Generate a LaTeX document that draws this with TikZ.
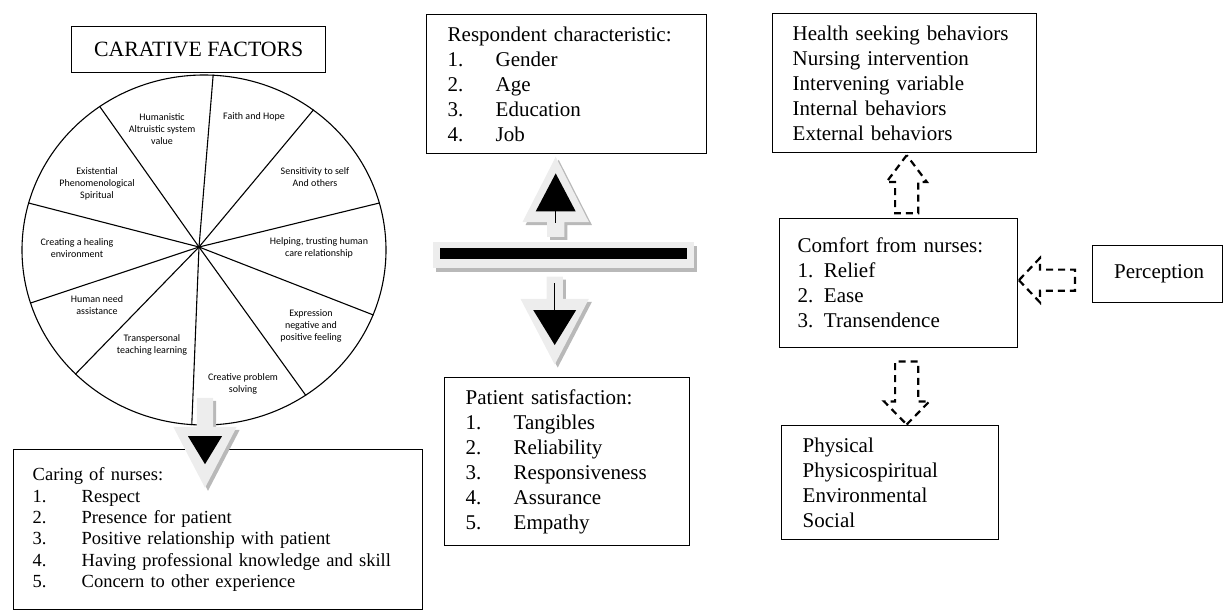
\documentclass[tikz,border=0pt]{standalone}
\usepackage{fontspec}
\setmainfont{Liberation Serif}
\newfontfamily\wheelfont{Carlito}
\usetikzlibrary{shapes.arrows,shapes.geometric,shadows,calc,positioning}

\newcommand{\itm}[3][48pt]{\makebox[#1][l]{#2}#3}

\begin{document}
\begin{tikzpicture}[x=1pt,y=-1pt,
    box/.style={draw,line width=1.4,anchor=north west,inner ysep=0,align=left,font=\fontsize{21}{25}\selectfont},
    factor/.style={align=center,font=\wheelfont\fontsize{10}{12.3}\selectfont},
    solidarr/.style={single arrow,fill=gray!14,drop shadow={shadow xshift=3pt,shadow yshift=-3pt,fill=gray!55,opacity=1}},
    dasharr/.style={single arrow,draw,dash pattern=on 7 off 5,line width=2.2}
]
\useasboundingbox (0,0) rectangle (1226,613);

\node[box,align=center,minimum width=254,minimum height=46,inner sep=0,font=\fontsize{21.8}{25}\selectfont] (title) at (71,26) {CARATIVE FACTORS};
\node[draw,ellipse,line width=1.1,minimum width=364,minimum height=350,inner sep=0] (wheel) at (204,250) {};
\coordinate (hub) at (199,247);
\foreach \a in {87,52,15,339,305,266,224,197,165,126}
    \draw[line width=1.1] (hub) -- (wheel.\a);

\node[factor] (f1) at (162,129) {Humanistic\\Altruistic system\\value};
\node[factor] (f2) at (254,117) {Faith and Hope};
\node[factor] (f3) at (315,177) {Sensitivity to self\\And others};
\node[factor] (f4) at (97,184) {Existential\\Phenomenological\\Spiritual};
\node[factor] (f5) at (77,248) {Creating a healing\\environment};
\node[factor] (f6) at (319,248) {Helping, trusting human\\care relationship};
\node[factor] (f7) at (97,305) {Human need\\assistance};
\node[factor] (f8) at (311,326) {Expression\\negative and\\positive feeling};
\node[factor] (f9) at (152,345) {Transpersonal\\teaching learning};
\node[factor] (f10) at (243,384) {Creative problem\\solving};

\node[box,text width=371,inner xsep=19,minimum height=160,font=\fontsize{18.5}{21.5}\selectfont] (caring) at (13,449)
    {Caring of nurses:\\\itm[49pt]{1.}{Respect}\\\itm[49pt]{2.}{Presence for patient}\\\itm[49pt]{3.}{Positive relationship with patient}\\\itm[49pt]{4.}{Having professional knowledge and skill}\\\itm[49pt]{5.}{Concern to other experience}};
\node[solidarr,inner sep=8,shape border rotate=270,minimum height=90,single arrow head extend=23.5,single arrow tip angle=55,anchor=tail] (careA) at ($(wheel.south)+(1,-28)$) {};
\fill ($(careA.tip)+(0,-24)$) -- ++(17,-28) -- ++(-34,0) -- cycle;

\node[box,text width=238,inner xsep=21,minimum height=139] (resp) at (426,14)
    {Respondent characteristic:\\\itm{1.}{Gender}\\\itm{2.}{Age}\\\itm{3.}{Education}\\\itm{4.}{Job}};
\node[box,text width=203,inner xsep=21,minimum height=168] (pat) at (444,377)
    {Patient satisfaction:\\\itm{1.}{Tangibles}\\\itm{2.}{Reliability}\\\itm{3.}{Responsiveness}\\\itm{4.}{Assurance}\\\itm{5.}{Empathy}};

\node[solidarr,inner sep=8.5,shape border rotate=90,minimum height=80,single arrow head extend=24.5,single arrow tip angle=54,anchor=tip] (upA) at ($(resp.south)+(-11,2)$) {};
\fill ($(upA.tip)+(0,17)$) -- ++(20,38) -- ++(-40,0) -- cycle;
\draw[line width=0.7] ($(upA.tip)+(0,55)$) -- ++(0,12);

\node[fill=gray!14,minimum width=261,minimum height=26,inner sep=0,drop shadow={shadow xshift=3pt,shadow yshift=-4pt,fill=gray!55,opacity=1}] (bar) at (563.5,255) {};
\fill ($(bar.north west)+(7,6)$) rectangle ($(bar.south east)+(-7,-9)$);

\node[solidarr,inner sep=8,shape border rotate=270,minimum height=88,single arrow head extend=26,single arrow tip angle=55,anchor=tip] (dnA) at ($(pat.north)+(-12.5,-12)$) {};
\fill ($(dnA.tip)+(0,-20)$) -- ++(21.5,-35) -- ++(-43,0) -- cycle;
\draw[line width=0.7] ($(dnA.tip)+(0,-55)$) -- ++(0,-27);

\node[box,text width=224,inner xsep=20,minimum height=139] (health) at (772,13)
    {Health seeking behaviors\\Nursing intervention\\Intervening variable\\Internal behaviors\\External behaviors};
\node[box,text width=202,inner xsep=18,minimum height=129] (comfort) at (779,218)
    {Comfort from nurses:\\1. Relief\\2. Ease\\3. Transendence};
\node[box,text width=87,inner xsep=21.5,minimum height=57] (percep) at (1092,245) {Perception};
\node[box,text width=175,inner xsep=21,minimum height=114] (phys) at (781,425)
    {Physical\\Physicospiritual\\Environmental\\Social};

\node[dasharr,inner sep=10.5,shape border rotate=90,minimum height=58,single arrow head extend=8.5,single arrow tip angle=74,anchor=tip] (toHealth) at ($(health.south)+(2,0)$) {};
\node[dasharr,inner sep=9.5,shape border rotate=180,minimum height=56,single arrow head extend=11.5,single arrow tip angle=93,anchor=tip] (fromPercep) at ($(comfort.east)+(-1,-3)$) {};
\node[dasharr,inner sep=10.5,shape border rotate=270,minimum height=63,single arrow head extend=11,single arrow tip angle=89,anchor=tail] (toPhys) at ($(comfort.south)+(8,12)$) {};
\end{tikzpicture}
\end{document}
